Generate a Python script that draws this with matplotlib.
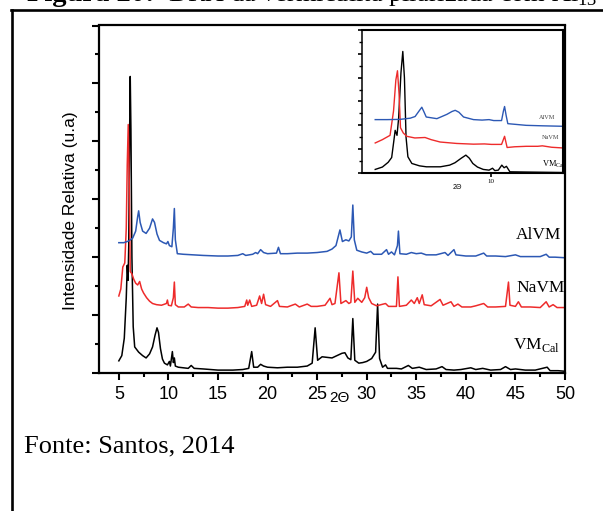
import matplotlib
matplotlib.use("Agg")
import matplotlib.pyplot as plt
import matplotlib.transforms as mtransforms
from matplotlib.lines import Line2D
from matplotlib.ticker import MultipleLocator, FixedLocator, NullLocator
import numpy as np

plt.rcParams['mathtext.fontset'] = 'custom'
plt.rcParams['mathtext.rm'] = 'Liberation Serif'

# --- data (2theta, relative intensity, curves already offset) ---
vm_x = [5.0, 5.3, 5.55, 5.75, 5.85, 5.93, 6.0, 6.08, 6.15, 6.22, 6.32, 6.45, 6.6, 7.0, 7.4, 7.75,
        8.1, 8.4, 8.65, 8.85, 9.0, 9.2, 9.4, 9.6, 9.9, 10.1, 10.2, 10.4, 10.5, 10.6, 10.7, 11.0,
        11.5, 12.0, 12.3, 12.6, 13.5, 15.0, 16.5, 17.5, 18.1, 18.4, 18.6, 19.0, 19.3, 19.6, 20.0,
        21.0, 22.0, 23.0, 24.0, 24.5, 24.8, 25.05, 25.5, 26.0, 26.5, 27.0, 27.5, 27.8, 28.1, 28.4,
        28.6, 28.8, 29.2, 29.6, 30.0, 30.5, 30.9, 31.1, 31.3, 31.6, 31.9, 32.1, 33.0, 33.5, 34.2,
        34.6, 35.3, 36.0, 37.0, 37.6, 38.0, 38.8, 39.5, 40.5, 41.0, 41.7, 42.5, 43.5, 44.0, 44.5,
        45.0, 46.0, 47.0, 48.2, 48.5, 49.3, 50.0]
vm_y = [0.21, 0.3, 0.6, 1.3, 1.86, 1.6, 2.2, 4.0, 5.12, 4.2, 2.0, 0.8, 0.45, 0.36, 0.3, 0.26,
        0.33, 0.45, 0.65, 0.78, 0.7, 0.42, 0.24, 0.17, 0.14, 0.2, 0.12, 0.37, 0.18, 0.26, 0.12, 0.1,
        0.09, 0.08, 0.13, 0.08, 0.07, 0.05, 0.05, 0.06, 0.08, 0.37, 0.1, 0.1, 0.15, 0.12, 0.1,
        0.09, 0.1, 0.1, 0.12, 0.17, 0.78, 0.22, 0.28, 0.27, 0.26, 0.3, 0.34, 0.35, 0.26, 0.23,
        0.94, 0.22, 0.17, 0.18, 0.2, 0.25, 0.36, 1.19, 0.25, 0.1, 0.14, 0.08, 0.08, 0.07, 0.13,
        0.08, 0.1, 0.06, 0.07, 0.11, 0.06, 0.05, 0.06, 0.09, 0.06, 0.08, 0.05, 0.06, 0.11, 0.06,
        0.07, 0.05, 0.05, 0.1, 0.04, 0.04, 0.03]

na_x = [5.0, 5.2, 5.4, 5.6, 5.75, 5.85, 5.95, 6.05, 6.15, 6.3, 6.5, 6.7, 6.9, 7.1, 7.3, 7.5, 7.8,
        8.1, 8.4, 8.8, 9.3, 9.8, 9.9, 10.0, 10.3, 10.5, 10.6, 10.7, 11.0, 11.6, 12.0, 12.3, 13.0,
        14.0, 15.0, 16.0, 17.0, 17.7, 17.9, 18.0, 18.2, 18.4, 18.9, 19.2, 19.4, 19.6, 19.8, 20.3,
        21.0, 21.2, 22.0, 22.8, 23.2, 24.0, 24.4, 25.0, 25.8, 26.3, 26.5, 26.8, 27.2, 27.4, 27.9,
        28.2, 28.4, 28.6, 28.8, 29.1, 29.5, 29.8, 30.0, 30.2, 30.5, 31.0, 31.9, 32.2, 33.0, 33.15,
        33.3, 34.0, 34.5, 34.8, 35.1, 35.3, 35.6, 35.8, 36.5, 37.4, 37.7, 38.5, 38.8, 39.2, 39.6,
        40.5, 41.0, 41.8, 42.2, 43.0, 44.0, 44.3, 44.45, 45.0, 45.3, 45.6, 46.5, 47.5, 48.1, 48.4,
        48.8, 49.2, 50.0]
na_y = [1.33, 1.45, 1.83, 1.9, 2.5, 3.6, 4.29, 3.3, 1.75, 1.72, 1.62, 1.55, 1.52, 1.58, 1.45, 1.38, 1.3,
        1.24, 1.2, 1.18, 1.17, 1.2, 1.26, 1.17, 1.16, 1.3, 1.57, 1.18, 1.14, 1.14, 1.19, 1.14, 1.13,
        1.13, 1.12, 1.12, 1.13, 1.15, 1.26, 1.17, 1.26, 1.15, 1.17, 1.33, 1.2, 1.36, 1.18, 1.15,
        1.25, 1.15, 1.14, 1.19, 1.14, 1.19, 1.15, 1.15, 1.17, 1.29, 1.18, 1.2, 1.73, 1.2, 1.25,
        1.2, 1.22, 1.76, 1.22, 1.29, 1.22, 1.3, 1.48, 1.3, 1.2, 1.16, 1.2, 1.15, 1.15, 1.66,
        1.15, 1.17, 1.26, 1.2, 1.3, 1.2, 1.35, 1.18, 1.16, 1.27, 1.17, 1.23, 1.15, 1.19, 1.14,
        1.14, 1.16, 1.2, 1.14, 1.14, 1.15, 1.57, 1.17, 1.15, 1.23, 1.14, 1.14, 1.13, 1.23, 1.14,
        1.18, 1.13, 1.13]

al_x = [5.0, 5.5, 6.0, 6.4, 6.7, 6.9, 7.0, 7.15, 7.4, 7.75, 8.1, 8.4, 8.6, 8.85, 9.1, 9.5, 9.8,
        9.95, 10.1, 10.35, 10.5, 10.6, 10.7, 10.9, 11.5, 12.5, 13.5, 15.0, 16.0, 17.0, 17.5, 17.8,
        18.5, 18.8, 19.0, 19.3, 19.6, 20.0, 20.9, 21.1, 21.3, 22.0, 23.0, 24.0, 25.0, 26.0, 26.5,
        26.9, 27.3, 27.55, 27.9, 28.2, 28.45, 28.6, 28.75, 29.0, 29.5, 30.0, 30.4, 30.7, 31.5,
        32.0, 32.2, 32.5, 32.8, 33.1, 33.2, 33.35, 34.0, 34.5, 35.0, 35.5, 36.0, 37.0, 37.9, 38.2,
        38.8, 39.0, 40.0, 41.0, 41.8, 42.1, 43.0, 44.0, 45.0, 45.5, 46.5, 47.5, 48.1, 48.4, 49.0,
        50.0]
al_y = [2.25, 2.25, 2.28, 2.33, 2.45, 2.7, 2.8, 2.6, 2.45, 2.41, 2.5, 2.66, 2.6, 2.4, 2.29, 2.25, 2.23,
        2.27, 2.2, 2.18, 2.5, 2.84, 2.3, 2.06, 2.05, 2.04, 2.03, 2.02, 2.02, 2.03, 2.06, 2.03,
        2.05, 2.08, 2.06, 2.13, 2.08, 2.06, 2.07, 2.17, 2.06, 2.06, 2.07, 2.07, 2.08, 2.1, 2.14,
        2.2, 2.47, 2.27, 2.3, 2.28, 2.35, 2.9, 2.3, 2.12, 2.09, 2.07, 2.1, 2.05, 2.05,
        2.13, 2.05, 2.09, 2.04, 2.2, 2.45, 2.06, 2.05, 2.08, 2.06, 2.07, 2.04, 2.04, 2.08, 2.03,
        2.13, 2.04, 2.02, 2.02, 2.07, 2.02, 2.02, 2.01, 2.04, 2.01, 2.01, 2.01, 2.05, 2.0, 2.0,
        1.99]

# inset (low-angle zoom)
in_vm_x = [4.99, 5.3, 5.55, 5.7, 5.8, 5.85, 5.93, 6.0, 6.1, 6.18, 6.25, 6.32, 6.4, 6.57, 6.9, 7.2,
           7.8, 8.2, 8.43, 8.7, 8.9, 9.05, 9.2, 9.4, 9.65, 9.9, 10.05, 10.15, 10.3, 10.45, 10.55,
           10.65, 10.8, 11.5, 12.3, 13.1]
in_vm_y = [0.15, 0.25, 0.45, 0.65, 1.4, 1.79, 1.58, 2.3, 4.2, 5.1, 4.0, 1.5, 0.68, 0.4, 0.3, 0.26,
           0.26, 0.33, 0.43, 0.62, 0.75, 0.62, 0.4, 0.25, 0.15, 0.12, 0.2, 0.1, 0.12, 0.33, 0.22,
           0.28, 0.05, 0.04, 0.03, 0.02]
in_na_x = [4.99, 5.3, 5.63, 5.78, 5.88, 5.95, 6.02, 6.08, 6.2, 6.35, 6.7, 7.14, 7.4, 7.79, 8.5,
           9.23, 9.7, 10.0, 10.44, 10.57, 10.68, 11.0, 11.5, 12.0, 12.2, 12.6, 13.1]
in_na_y = [1.26, 1.4, 1.58, 2.6, 3.9, 4.29, 3.3, 1.9, 1.68, 1.54, 1.47, 1.49, 1.4, 1.3, 1.24,
           1.21, 1.22, 1.2, 1.2, 1.54, 1.07, 1.1, 1.12, 1.12, 1.14, 1.08, 1.05]
in_al_x = [4.99, 5.5, 6.06, 6.5, 6.71, 6.88, 7.0, 7.1, 7.19, 7.65, 8.08, 8.3, 8.44, 8.6, 8.8,
           9.23, 9.6, 9.9, 10.1, 10.44, 10.52, 10.57, 10.64, 10.71, 11.5, 12.2, 13.1]
in_al_y = [2.24, 2.24, 2.25, 2.3, 2.37, 2.6, 2.76, 2.55, 2.35, 2.28, 2.46, 2.58, 2.63, 2.55, 2.35,
           2.24, 2.22, 2.24, 2.2, 2.2, 2.6, 2.79, 2.4, 2.07, 2.0, 1.98, 1.96]

x_ticks = [5, 10, 15, 20, 25, 30, 35, 40, 45, 50]

blue = '#2c58b4'
red = '#ee2b2b'
sans = 'Liberation Sans'
serif = 'Liberation Serif'

fig = plt.figure(figsize=(6.03, 5.11), dpi=100)
W, H = 603.0, 511.0

def fx(px):
    return px / W

def fy(py):
    return 1 - py / H

# main axes
ax = fig.add_axes([fx(99), fy(373), fx(565) - fx(99), fy(25.5) - fy(373)])
ax.plot(vm_x, vm_y, color='black', lw=1.1)
ax.plot(na_x, na_y, color=red, lw=1.1)
ax.plot(al_x, al_y, color=blue, lw=1.1)
ax.set_xlim(3, 50)
ax.set_ylim(0, 6)
ax.xaxis.set_major_locator(FixedLocator(x_ticks))
ax.xaxis.set_minor_locator(MultipleLocator(2.5))
ax.yaxis.set_major_locator(MultipleLocator(1))
ax.yaxis.set_minor_locator(MultipleLocator(0.5))
ax.set_yticklabels([])
ax.tick_params(which='major', direction='out', length=5, width=1.5, pad=4)
ax.tick_params(which='minor', direction='out', length=3.2, width=1.5)
for lab in ax.get_xticklabels():
    lab.set_fontfamily(sans)
    lab.set_fontsize(13)
for s in ax.spines.values():
    s.set_linewidth(1.6)

ax.text(49.6, 2.32, 'AlVM', ha='right', va='baseline', fontsize=12.5, family=serif)
ax.text(50.0, 1.40, 'NaVM', ha='right', va='baseline', fontsize=12.5, family=serif)
ax.text(44.75, 0.41, r'$\mathrm{VM}_{\mathrm{Cal}}$', ha='left', va='baseline', fontsize=12.5)

trans = mtransforms.blended_transform_factory(ax.transData, ax.transAxes)
ax.text(27.3, -0.072, '2Θ', transform=trans, ha='center', va='center', fontsize=11, family=sans)

fig.text(fx(70), fy(211), 'Intensidade Relativa (u.a)', rotation=90, ha='center', va='center',
         fontsize=12.5, family=sans)

# inset
axi = fig.add_axes([fx(362), fy(173), fx(563) - fx(362), fy(30) - fy(173)])
axi.set_facecolor('white')
axi.plot(in_vm_x, in_vm_y, color='black', lw=1.0)
axi.plot(in_na_x, in_na_y, color=red, lw=1.0)
axi.plot(in_al_x, in_al_y, color=blue, lw=1.0)
axi.set_xlim(4.42, 13.09)
axi.set_ylim(0, 6)
axi.xaxis.set_major_locator(FixedLocator([10]))
axi.xaxis.set_minor_locator(NullLocator())
axi.yaxis.set_major_locator(MultipleLocator(1))
axi.yaxis.set_minor_locator(MultipleLocator(0.5))
axi.set_yticklabels([])
axi.tick_params(which='major', direction='out', length=3, width=1.2, pad=1, labelsize=5)
axi.tick_params(which='minor', direction='out', length=2, width=1.0)
for lab in axi.get_xticklabels():
    lab.set_fontfamily(serif)
for s in axi.spines.values():
    s.set_linewidth(1.5)
axi.spines['left'].set_linewidth(1.1)

axi.text(12.75, 2.25, 'AlVM', ha='right', va='baseline', fontsize=4.5, family=serif, color='#444444')
axi.text(12.95, 1.42, 'NaVM', ha='right', va='baseline', fontsize=4.5, family=serif, color='#444444')
axi.text(12.19, 0.26, r'$\mathrm{VM}_{\mathrm{Cal}}$', ha='left', va='baseline', fontsize=6)
trans_i = mtransforms.blended_transform_factory(axi.transData, axi.transAxes)
axi.text(8.52, -0.1, '2Θ', transform=trans_i, ha='center', va='center', fontsize=5, family=sans)

# page frame and cropped caption
fig.add_artist(Line2D([fx(11.5), fx(11.5)], [0, fy(10)], color='black', lw=1.9))
fig.add_artist(Line2D([fx(10.6), 1.0], [fy(10), fy(10)], color='black', lw=1.9))

fig.text(fx(27), fy(1.0), 'Figura 20:', ha='left', va='baseline', fontsize=20.5, family=serif,
         fontweight='bold')
fig.text(fx(168), fy(1.0), r'DRX da vermiculita pilarizada com Al$_{13}$', ha='left',
         va='baseline', fontsize=19, family=serif)

fig.text(fx(24), fy(452.7), 'Fonte: Santos, 2014', ha='left', va='baseline', fontsize=19,
         family=serif)

fig.savefig('out.png', dpi=100)
